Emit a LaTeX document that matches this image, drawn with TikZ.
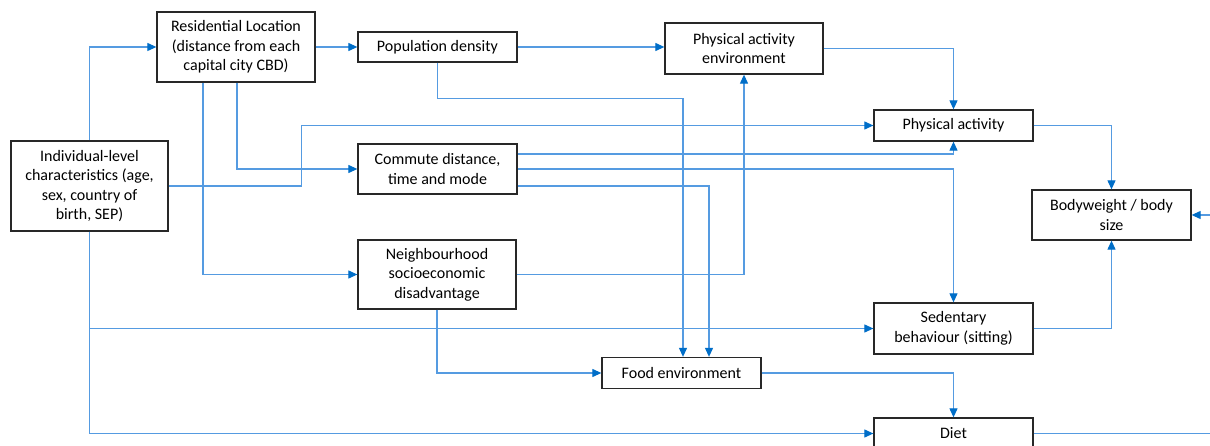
\documentclass[tikz,border=0pt]{standalone}
\usepackage{fontspec}
\setmainfont{Carlito}
\usetikzlibrary{arrows.meta}
\definecolor{lineblue}{RGB}{85,155,225}
\definecolor{tipblue}{RGB}{0,110,200}
\definecolor{boxgray}{RGB}{40,40,40}
\begin{document}
\begin{tikzpicture}[x=1pt,y=-1pt,
  box/.style={draw=boxgray, line width=1.3pt, rectangle, align=center, inner sep=0pt,
    font=\fontsize{16}{19.5}\selectfont},
  conn/.style={draw=lineblue, line width=1.1pt,
    -{Triangle[length=9pt,width=8pt,color=tipblue]}}]
\useasboundingbox (0,0) rectangle (1210,446);
\clip (0,0) rectangle (1210,446);
\fill[white] (0,0) rectangle (1210,446);
% nodes
\node[box, minimum width=158pt, minimum height=70pt] (res) at (236,47) {Residential Location\\(distance from each\\capital city CBD)};
\node[box, minimum width=159pt, minimum height=30pt] (pop) at (437.5,47) {Population density};
\node[box, minimum width=158pt, minimum height=51pt] (pae) at (744,48.5) {Physical activity\\environment};
\node[box, minimum width=159pt, minimum height=31pt] (pa) at (953.5,125.5) {Physical activity};
\node[box, minimum width=159pt, minimum height=50pt] (bw) at (1111.5,215) {Bodyweight / body\\size};
\node[box, minimum width=157pt, minimum height=90pt] (ind) at (89.5,186) {Individual-level\\characteristics (age,\\sex, country of\\birth, SEP)};
\node[box, minimum width=159pt, minimum height=50pt] (com) at (437.5,169) {Commute distance,\\time and mode};
\node[box, minimum width=158pt, minimum height=69pt] (nbh) at (437,274.5) {Neighbourhood\\socioeconomic\\disadvantage};
\node[box, minimum width=159pt, minimum height=51pt] (sed) at (953.5,328.5) {Sedentary\\behaviour (sitting)};
\node[box, minimum width=159pt, minimum height=31pt] (food) at (681.5,373) {Food environment};
\node[box, minimum width=159pt, minimum height=31pt] (diet) at (953.5,433.5) {Diet};
\coordinate (offright) at (1218,433.5);
% connectors
\draw[conn] (ind.north) |- (res.west);
\draw[conn] (res.east) -- (pop.west);
\draw[conn] ([xshift=-33pt]res.south) |- (nbh.west);
\draw[conn] ([xshift=1pt]res.south) |- (com.west);
\draw[conn] (ind.east) -- ++(133,0) |- (pa.west);
\draw[conn] (pop.east) -- (pae.west |- pop.east);
\draw[conn] (pop.south) -- ++(0,36) -| ([xshift=1.5pt]food.north);
\draw[conn] ([yshift=15pt]com.east) -| (pa.south);
\draw[conn] (com.east) -| (sed.north);
\draw[conn] ([yshift=-17pt]com.east) -| ([xshift=27.5pt]food.north);
\draw[conn] (nbh.east) -| (pae.south);
\draw[conn] (pae.east) -| (pa.north);
\draw[conn] (pa.east) -| (bw.north);
\draw[conn] (ind.south) |- (sed.west);
\draw[conn] (ind.south) |- (diet.west);
\draw[conn] (nbh.south) |- (food.west);
\draw[conn] (food.east) -| (diet.north);
\draw[conn] (sed.east) -| (bw.south);
\draw[conn] (diet.east) -- (offright) |- (bw.east);
\end{tikzpicture}
\end{document}
